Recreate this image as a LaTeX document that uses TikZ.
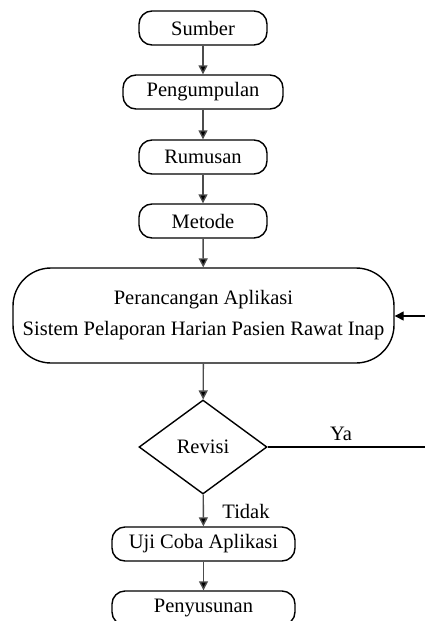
\documentclass[tikz,border=0pt]{standalone}
\usepackage{fontspec}
\setmainfont{Liberation Serif}
\usetikzlibrary{shapes.geometric,arrows.meta}
\tikzset{
  stepbox/.style={draw=black, line width=1.4pt, rounded corners=13pt, minimum height=34pt, inner sep=0pt, font=\fontsize{20.5}{24}\selectfont},
  bigbox/.style={draw=black, line width=1.4pt, rounded corners=38pt, inner sep=0pt, align=center, font=\fontsize{20.5}{31}\selectfont},
  decide/.style={draw=black, line width=1.4pt, shape=diamond, inner sep=0pt, minimum width=128pt, minimum height=94pt, font=\fontsize{20.5}{24}\selectfont},
  conn/.style={draw=black!70, line width=1.4pt, -{Triangle[length=9pt,width=9pt,fill=black]}},
  plain/.style={draw=black, line width=1.4pt},
  lbl/.style={font=\fontsize{20.5}{24}\selectfont, inner sep=0pt}
}
\begin{document}
\begin{tikzpicture}[x=1pt,y=-1pt]
\useasboundingbox (0,0) rectangle (425,621);
\node[stepbox, minimum width=128pt] (sumber) at (203,28) {Sumber};
\node[stepbox, minimum width=160pt] (kumpul) at (203,92) {Pengumpulan};
\node[stepbox, minimum width=128pt] (rumus) at (203,157) {Rumusan};
\node[stepbox, minimum width=128pt] (metode) at (203,221) {Metode};
\node[bigbox, minimum width=381pt, minimum height=95pt] (rancang) at (203.5,315.5) {Perancangan Aplikasi\\Sistem Pelaporan Harian Pasien Rawat Inap};
\node[decide] (revisi) at (203,447) {Revisi};
\node[stepbox, minimum width=183pt] (uji) at (203.5,544) {Uji Coba Aplikasi};
\node[stepbox, minimum width=183pt] (susun) at (203.5,608) {Penyusunan};
\coordinate (c1) at (427,447);
\coordinate (c2) at (427,316);
\draw[conn] (sumber) -- (kumpul);
\draw[conn] (kumpul) -- (rumus);
\draw[conn] (rumus) -- (metode);
\draw[conn] (metode) -- (rancang);
\draw[conn] (rancang) -- (revisi);
\draw[conn] (revisi) -- (uji);
\draw[conn] (uji) -- (susun);
\draw[plain] (revisi.east) -- (c1) -- (c2);
\draw[conn, draw=black] (c2) -- (rancang.east |- c2);
\node[lbl] (ya) at (341,434) {Ya};
\node[lbl] (tidak) at (246,511) {Tidak};
\end{tikzpicture}
\end{document}
